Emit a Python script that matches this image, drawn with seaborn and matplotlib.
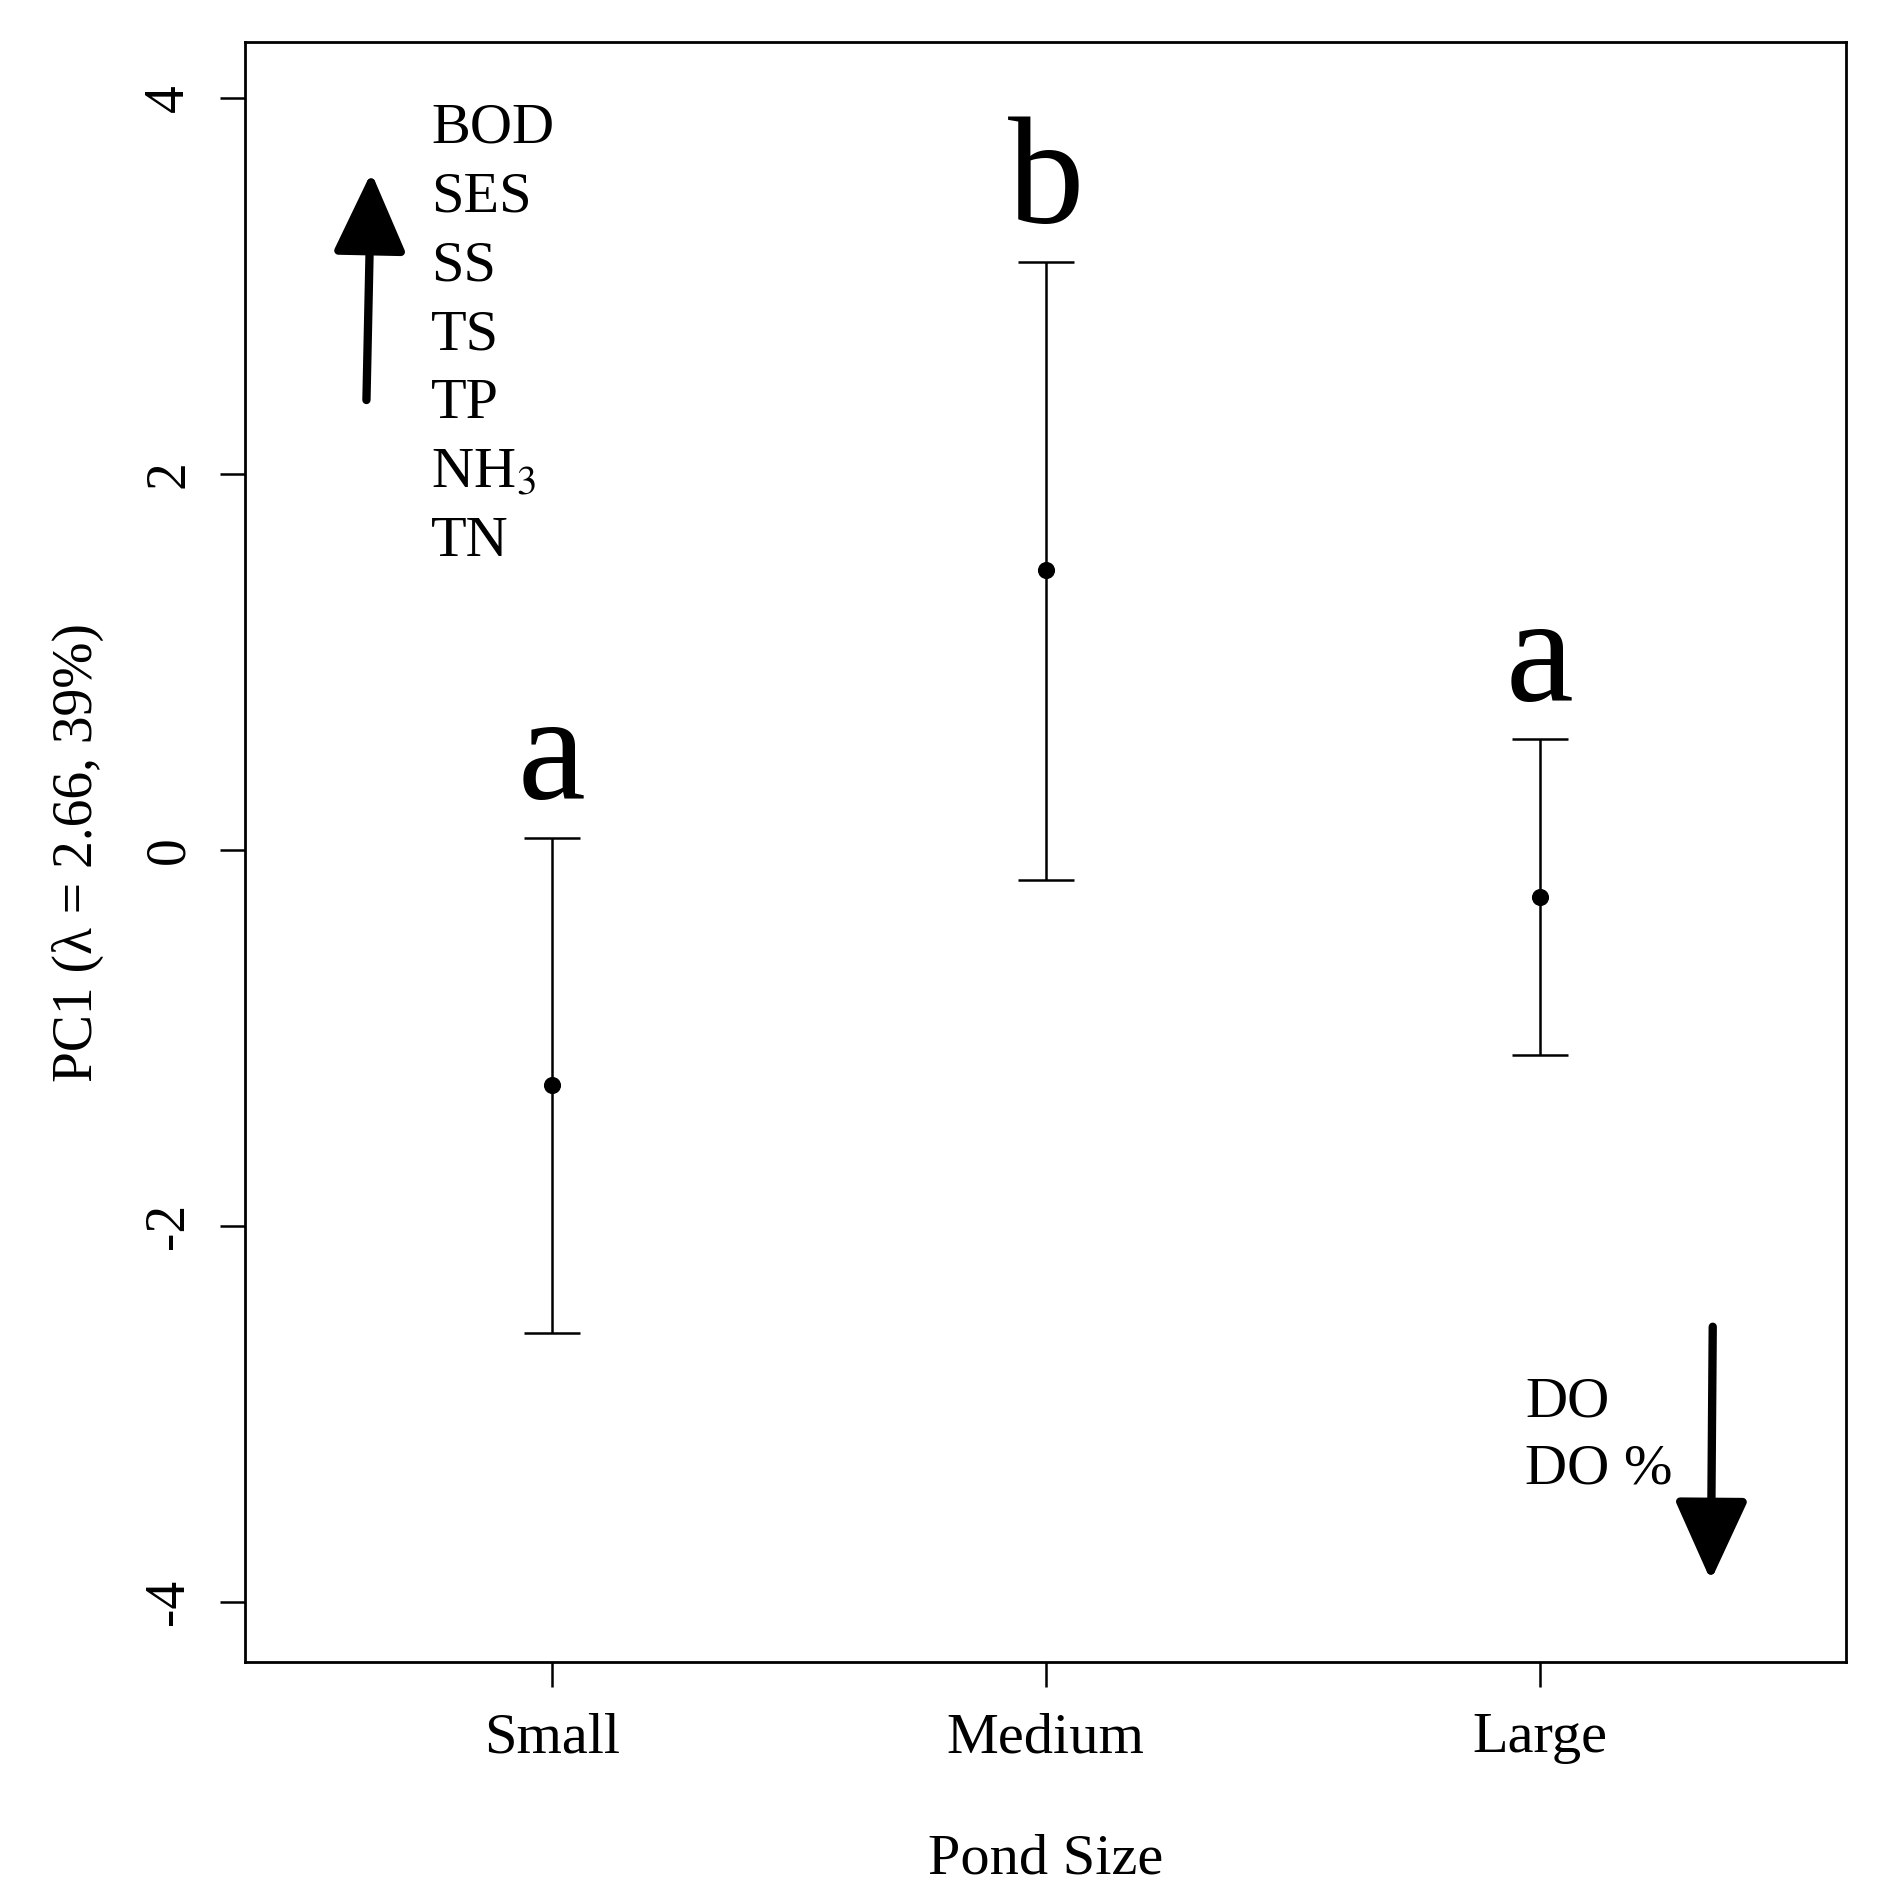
import numpy as np
import pandas as pd
import matplotlib
matplotlib.use("Agg")
import matplotlib.pyplot as plt
import seaborn as sns

# valori
marimi = ["Small", "Medium", "Large"]
medii = [-1.25, 1.49, -0.25]
limita_sus = [0.065, 3.13, 0.59]
limita_jos = [-2.57, -0.16, -1.09]
litere = ["a", "b", "a"]
variabile_sus = ["BOD", "SES", "SS", "TS", "TP", "NH$_3$", "TN"]
variabile_jos = ["DO", "DO %"]

sns.set_style("ticks")
plt.rcParams['font.family'] = ['Liberation Serif', 'DejaVu Serif']
plt.rcParams['mathtext.fontset'] = 'stix'
plt.rcParams['text.color'] = 'black'
plt.rcParams['axes.labelcolor'] = 'black'
plt.rcParams['xtick.color'] = 'black'
plt.rcParams['ytick.color'] = 'black'
plt.rcParams['axes.edgecolor'] = 'black'

df = pd.DataFrame({"Marime": marimi, "Medie": medii,
                   "Sus": limita_sus, "Jos": limita_jos})
pozitii = np.arange(1, len(marimi) + 1)

fig = plt.figure(figsize=(18.8, 19.02), dpi=100)
ax = fig.add_axes([0.1305, 0.126, 0.8515, 0.852])

err = [df["Medie"] - df["Jos"], df["Sus"] - df["Medie"]]
ax.errorbar(pozitii, df["Medie"], yerr=err, fmt="none", ecolor="black",
            elinewidth=1.8, capsize=20, capthick=1.8)
sns.scatterplot(x=pozitii, y=df["Medie"], color="black", s=130, ax=ax,
                edgecolor="black", zorder=3)

for p, sus, lit in zip(pozitii, df["Sus"], litere):
    ax.text(p, sus + 0.03, lit, ha="center", va="bottom", fontsize=110,
            color="black")

# sageti
stil = dict(arrowstyle="-|>,head_width=0.5,head_length=1.1",
            lw=6, color="black", mutation_scale=45)
ax.annotate("", xy=(0.635, 3.62), xytext=(0.625, 2.38), arrowprops=stil)
ax.annotate("", xy=(3.346, -3.9), xytext=(3.35, -2.52), arrowprops=stil)

for i, v in enumerate(variabile_sus):
    ax.text(0.756, 3.84 - i * 0.367, v, ha="left", va="center", fontsize=42)
for i, v in enumerate(variabile_jos):
    ax.text(2.97, -2.94 - i * 0.355, v, ha="left", va="center", fontsize=42)

ax.set_xlim(0.38, 3.62)
ax.set_ylim(-4.32, 4.30)
ax.set_xticks(pozitii)
ax.set_xticklabels(marimi, fontsize=42)
ax.set_yticks([-4, -2, 0, 2, 4])
ax.set_yticklabels(["-4", "-2", "0", "2", "4"], fontsize=40, rotation=90,
                   va="center")
ax.tick_params(axis="both", length=18, width=1.8, direction="out", pad=18)
for s in ax.spines.values():
    s.set_linewidth(2)
ax.set_xlabel("Pond Size", fontsize=42, labelpad=50)
ax.set_ylabel("PC1 (λ = 2.66, 39%)", fontsize=40, labelpad=28)

fig.savefig("out.png", dpi=100)
